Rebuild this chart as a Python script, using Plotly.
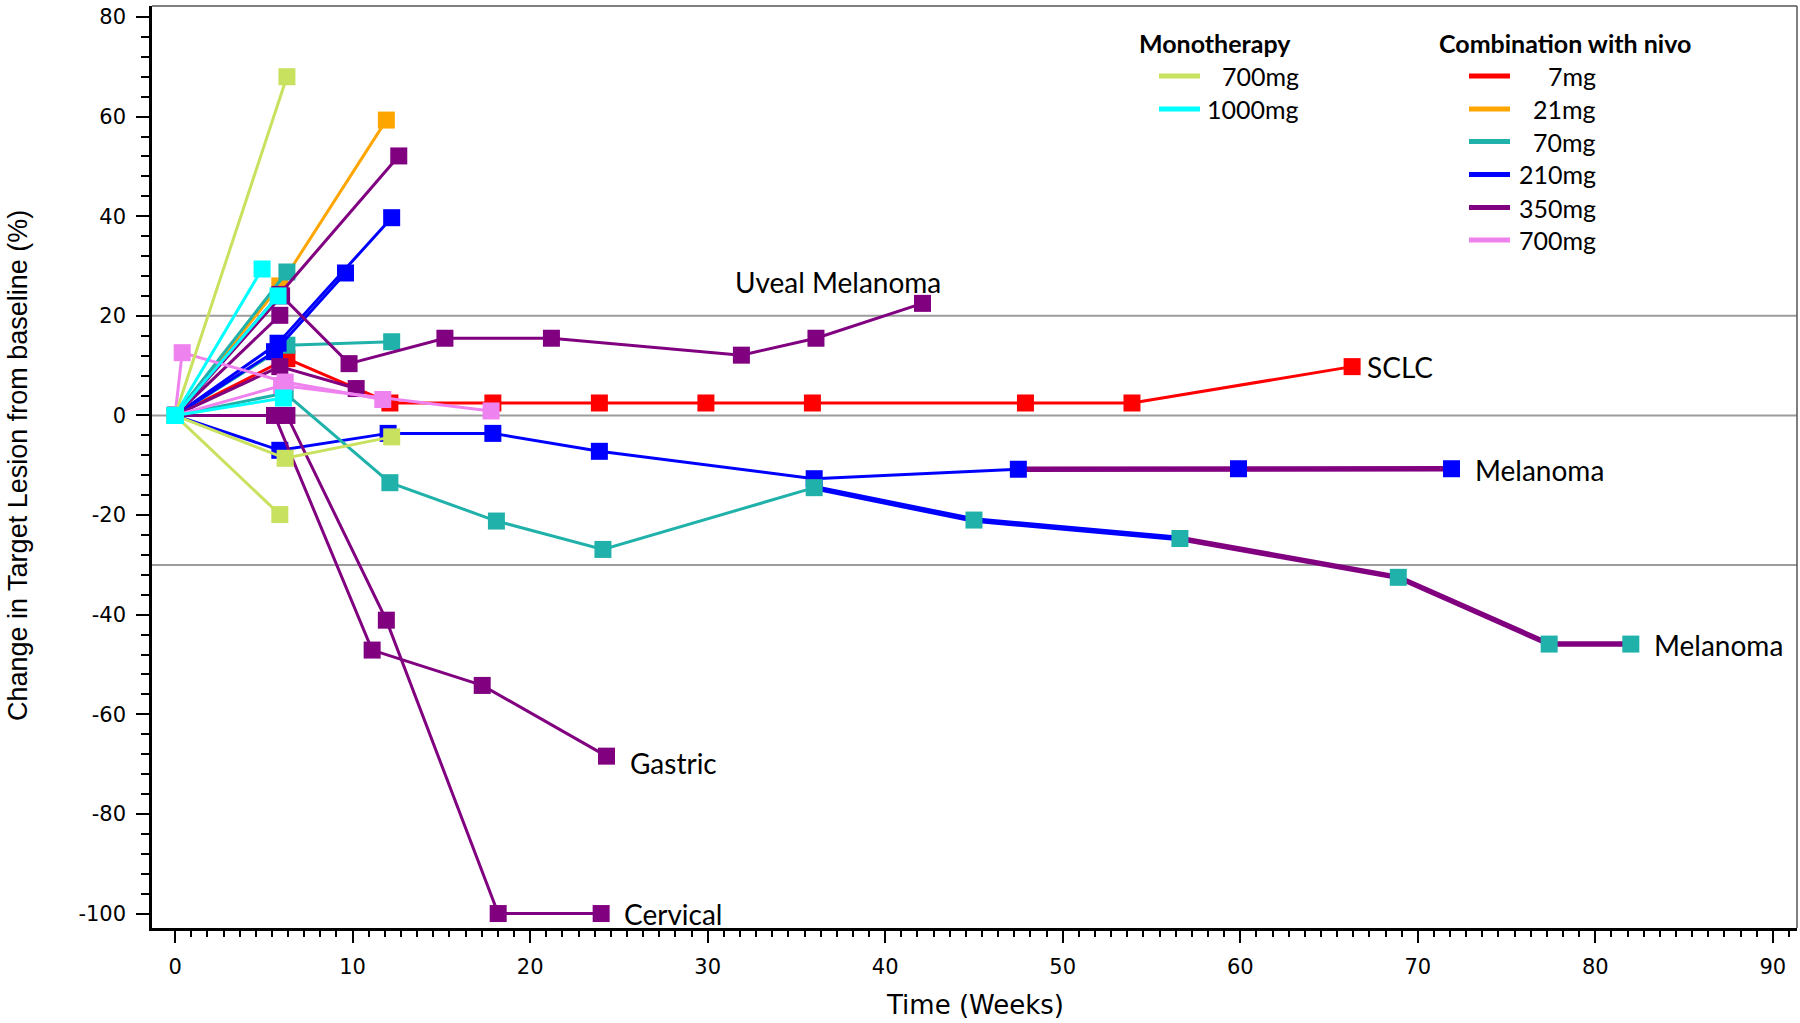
import numpy as np
import plotly.graph_objects as go

# ---------------------------------------------------------------
# Change in target lesion (%) over time (weeks), one line per patient
# ---------------------------------------------------------------

# Monotherapy 700 mg
mono700_a_weeks, mono700_a_pct = [0, 6.3], [0, 68.0]
mono700_b_weeks, mono700_b_pct = [0, 6.2, 12.2], [0, -8.6, -4.3]
mono700_c_weeks, mono700_c_pct = [0, 5.9], [0, -19.9]

# Monotherapy 1000 mg
mono1000_a_weeks, mono1000_a_pct = [0, 4.9], [0, 29.4]
mono1000_b_weeks, mono1000_b_pct = [0, 5.8], [0, 24.0]
mono1000_c_weeks, mono1000_c_pct = [0, 6.1], [0, 3.5]

# Combination with nivo, 7 mg
sclc_weeks = [0, 6.3, 12.1, 17.9, 23.9, 29.9, 35.9, 47.9, 53.9, 66.3]
sclc_pct = [0, 11.4, 2.5, 2.5, 2.5, 2.5, 2.5, 2.5, 2.5, 9.8]

# Combination with nivo, 21 mg
c21_weeks, c21_pct = [0, 5.9, 11.9], [0, 26.0, 59.3]

# Combination with nivo, 70 mg
c70_a_weeks, c70_a_pct = [0, 6.3], [0, 28.8]
c70_b_weeks, c70_b_pct = [0, 6.3, 12.2], [0, 14.1, 14.8]
mel_low_weeks = [0, 6.2, 12.1, 18.1, 24.1, 36.0, 45.0, 56.6, 68.9, 77.4, 82.0]
mel_low_pct = [0, 4.5, -13.5, -21.2, -26.9, -14.5, -21.0, -24.7, -32.5, -45.9, -45.9]
mel_low_switch = [(36.0, "210mg"), (56.6, "350mg")]

# Combination with nivo, 210 mg
c210_a_weeks, c210_a_pct = [0, 5.8, 12.2], [0, 14.5, 39.7]
c210_b_weeks, c210_b_pct = [0, 5.6, 9.6], [0, 12.8, 28.6]
mel_up_weeks = [0, 5.9, 12.0, 17.9, 23.9, 36.0, 47.5, 59.9, 71.9]
mel_up_pct = [0, -7.0, -3.6, -3.6, -7.2, -12.7, -10.8, -10.7, -10.7]
mel_up_switch = [(47.5, "350mg")]

# Combination with nivo, 350 mg
c350_a_weeks, c350_a_pct = [0, 5.9], [0, 20.1]
c350_b_weeks, c350_b_pct = [0, 5.9, 12.6], [0, 24.3, 52.1]
c350_c_weeks, c350_c_pct = [0, 5.9, 10.2], [0, 9.8, 5.4]
uveal_weeks = [0, 6.0, 9.8, 15.2, 21.2, 31.9, 36.1, 42.1]
uveal_pct = [0, 24.0, 10.4, 15.5, 15.5, 12.1, 15.5, 22.5]
gastric_weeks = [0, 5.6, 11.1, 17.3, 24.3]
gastric_pct = [0, 0, -47.1, -54.2, -68.4]
cervical_weeks = [0, 6.3, 11.9, 18.2, 24.0]
cervical_pct = [0, 0, -41.1, -100, -100]

# Combination with nivo, 700 mg
c700_a_weeks, c700_a_pct = [0, 0.4, 6.2, 11.7], [0, 12.6, 6.7, 3.2]
c700_b_weeks, c700_b_pct = [0, 6.0, 17.8], [0, 6.0, 0.9]

# Reference lines (progression / baseline / response thresholds)
reference_levels = [20, 0, -30]

# Axis ticks
x_tick_values = list(range(0, 91, 10))
y_tick_values = list(range(-100, 81, 20))
y_tick_labels = [str(v) for v in y_tick_values]

# Legend entries
mono_doses = ["700mg", "1000mg"]
combo_doses = ["7mg", "21mg", "70mg", "210mg", "350mg", "700mg"]

# ---------------------------------------------------------------
COLORS = {
    ("mono", "700mg"): "#C8E15E",
    ("mono", "1000mg"): "#00FFFF",
    ("combo", "7mg"): "#FF0000",
    ("combo", "21mg"): "#FFA500",
    ("combo", "70mg"): "#20B2AA",
    ("combo", "210mg"): "#0000FF",
    ("combo", "350mg"): "#800080",
    ("combo", "700mg"): "#EE82EE",
}

# drawing order: later patients sit on top
patients = [
    ("combo", "7mg", sclc_weeks, sclc_pct, [], "SCLC"),
    ("combo", "21mg", c21_weeks, c21_pct, [], None),
    ("combo", "70mg", c70_a_weeks, c70_a_pct, [], None),
    ("combo", "70mg", c70_b_weeks, c70_b_pct, [], None),
    ("combo", "210mg", c210_a_weeks, c210_a_pct, [], None),
    ("combo", "210mg", c210_b_weeks, c210_b_pct, [], None),
    ("combo", "210mg", mel_up_weeks, mel_up_pct, mel_up_switch, "Melanoma"),
    ("combo", "70mg", mel_low_weeks, mel_low_pct, mel_low_switch, "Melanoma"),
    ("combo", "350mg", c350_a_weeks, c350_a_pct, [], None),
    ("combo", "350mg", c350_b_weeks, c350_b_pct, [], None),
    ("combo", "350mg", c350_c_weeks, c350_c_pct, [], None),
    ("combo", "350mg", gastric_weeks, gastric_pct, [], "Gastric"),
    ("combo", "350mg", cervical_weeks, cervical_pct, [], "Cervical"),
    ("combo", "350mg", uveal_weeks, uveal_pct, [], "Uveal Melanoma"),
    ("combo", "700mg", c700_a_weeks, c700_a_pct, [], None),
    ("combo", "700mg", c700_b_weeks, c700_b_pct, [], None),
    ("mono", "700mg", mono700_a_weeks, mono700_a_pct, [], None),
    ("mono", "700mg", mono700_b_weeks, mono700_b_pct, [], None),
    ("mono", "700mg", mono700_c_weeks, mono700_c_pct, [], None),
    ("mono", "1000mg", mono1000_a_weeks, mono1000_a_pct, [], None),
    ("mono", "1000mg", mono1000_b_weeks, mono1000_b_pct, [], None),
    ("mono", "1000mg", mono1000_c_weeks, mono1000_c_pct, [], None),
]

THIN, THICK = 3, 5.5
MARKER = 17
LABEL_FONT = "Lato, Open Sans, sans-serif"

W, H = 1800, 1023
M = dict(l=152, r=3, t=6, b=95)
PW, PH = W - M["l"] - M["r"], H - M["t"] - M["b"]


def px_x(px):
    return (px - M["l"]) / PW


def px_y(py):
    return (H - M["b"] - py) / PH


fig = go.Figure()

for lvl in reference_levels:
    fig.add_shape(type="line", xref="paper", yref="y", x0=0, x1=1, y0=lvl, y1=lvl,
                  line=dict(color="#9C9C9C", width=2), layer="below")


def segment_dose(start_dose, switches, week):
    dose = start_dose
    for w, d in switches:
        if week >= w - 1e-9:
            dose = d
    return dose


for arm, dose, weeks, pct, switches, _ in patients:
    # split the path into runs of constant dose so each run gets its own colour
    seg_doses = [segment_dose(dose, switches, weeks[i]) for i in range(len(weeks) - 1)]
    start = 0
    for i in range(1, len(seg_doses) + 1):
        if i == len(seg_doses) or seg_doses[i] != seg_doses[start]:
            d = seg_doses[start]
            fig.add_trace(go.Scatter(
                x=weeks[start:i + 1], y=pct[start:i + 1], mode="lines",
                line=dict(color=COLORS[(arm, d)], width=THIN if d == dose else THICK),
                showlegend=False, hoverinfo="skip"))
            start = i
    fig.add_trace(go.Scatter(
        x=weeks, y=pct, mode="markers",
        marker=dict(symbol="square", size=MARKER, color=COLORS[(arm, dose)], line=dict(width=0)),
        showlegend=False))

# tumour type labels next to the last assessment
label_offsets = {
    "SCLC": dict(xanchor="left", xshift=13, yshift=0),
    "Melanoma": dict(xanchor="left", xshift=21, yshift=-1),
    "Gastric": dict(xanchor="left", xshift=22, yshift=-7),
    "Cervical": dict(xanchor="left", xshift=21, yshift=0),
    "Uveal Melanoma": dict(xanchor="center", xshift=-84, yshift=21),
}
for arm, dose, weeks, pct, switches, label in patients:
    if label:
        fig.add_annotation(x=weeks[-1], y=pct[-1], text=label, showarrow=False,
                           yanchor="middle", font=dict(family=LABEL_FONT, size=28, color="black"),
                           **label_offsets[label])

# legend block drawn as swatches + text
fig.add_annotation(xref="paper", yref="paper", x=px_x(1215), y=px_y(43), text="<b>Monotherapy</b>",
                   showarrow=False, xanchor="center", yanchor="middle",
                   font=dict(family=LABEL_FONT, size=25, color="black"))
fig.add_annotation(xref="paper", yref="paper", x=px_x(1565), y=px_y(43),
                   text="<b>Combination with nivo</b>", showarrow=False,
                   xanchor="center", yanchor="middle",
                   font=dict(family=LABEL_FONT, size=25, color="black"))
row_y = [76, 109, 141.5, 174.5, 207.5, 240]
for arm, doses, sw0, sw1, txt_right in [("mono", mono_doses, 1159, 1200, 1301),
                                         ("combo", combo_doses, 1469, 1510, 1598)]:
    for k, d in enumerate(doses):
        yy = px_y(row_y[k])
        fig.add_shape(type="line", xref="paper", yref="paper", x0=px_x(sw0), x1=px_x(sw1),
                      y0=yy, y1=yy, line=dict(color=COLORS[(arm, d)], width=5))
        fig.add_annotation(xref="paper", yref="paper", x=px_x(txt_right), y=yy, text=d,
                           showarrow=False, xanchor="right", yanchor="middle",
                           font=dict(family=LABEL_FONT, size=25, color="black"))

# top / right frame
fig.add_shape(type="line", xref="paper", yref="paper", x0=0, x1=1, y0=1, y1=1,
              line=dict(color="#555555", width=1.5))
fig.add_shape(type="line", xref="paper", yref="paper", x0=1, x1=1, y0=0, y1=1,
              line=dict(color="#555555", width=1.5))

# axis titles
fig.add_annotation(xref="paper", yref="paper", x=0.5, y=0, yshift=-77, text="Time (Weeks)",
                   showarrow=False, xanchor="center", yanchor="middle",
                   font=dict(family="DejaVu Sans", size=26, color="black"))
fig.add_annotation(xref="paper", yref="paper", x=0, xshift=-134, y=px_y(466),
                   text="Change in Target Lesion from baseline (%)", textangle=-90,
                   showarrow=False, xanchor="center", yanchor="middle",
                   font=dict(family="Liberation Sans, Arial", size=27, color="black"))

x_minor = [v for v in np.arange(0, 91.3, 10 / 11)
           if min(abs(v - m) for m in x_tick_values) > 1e-6]

fig.update_xaxes(range=[-1.3, 91.36], tickmode="array", tickvals=x_tick_values,
                 ticks="outside", ticklen=12, tickwidth=2, tickcolor="black",
                 minor=dict(tickmode="array", tickvals=x_minor, ticks="outside",
                            ticklen=6, tickwidth=1.5, tickcolor="black"),
                 showline=True, linecolor="black", linewidth=2.5,
                 showgrid=False, zeroline=False, ticklabelstandoff=6,
                 tickfont=dict(family="DejaVu Sans", size=21, color="black"))
fig.update_yaxes(range=[-102.9, 82.2], tickmode="array", tickvals=y_tick_values,
                 ticktext=y_tick_labels,
                 ticks="outside", ticklen=13, tickwidth=2, tickcolor="black",
                 minor=dict(dtick=4, tick0=0, ticks="outside", ticklen=8, tickwidth=1.5,
                            tickcolor="black"),
                 showline=True, linecolor="black", linewidth=2.5,
                 showgrid=False, zeroline=False, ticklabelstandoff=6,
                 tickfont=dict(family="DejaVu Sans", size=21, color="black"))

fig.update_layout(width=W, height=H, margin=M, plot_bgcolor="white", paper_bgcolor="white",
                  showlegend=False)

fig.write_html("out.html")
